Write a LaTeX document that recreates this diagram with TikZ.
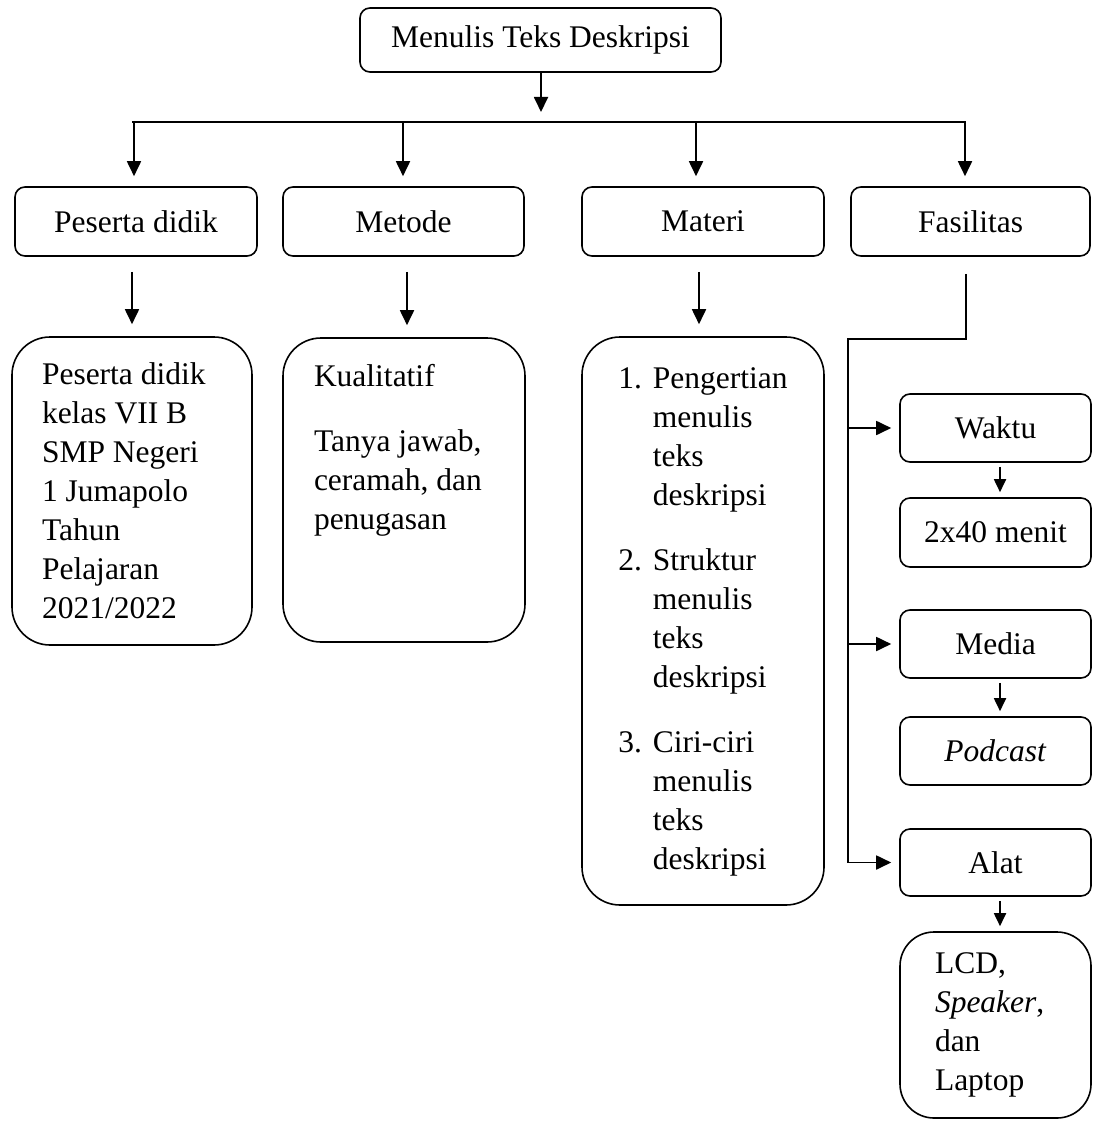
\documentclass[tikz,border=0pt]{standalone}
\usepackage{fontspec}
\setmainfont{Liberation Serif}
\usetikzlibrary{arrows.meta}
\newcommand\fsz{\fontsize{31.5}{39}\selectfont}
\begin{document}
\begin{tikzpicture}[x=1pt,y=-1pt,
  box/.style={draw, line width=1.6pt, rounded corners=10pt, inner sep=0pt, font=\fsz, align=center},
  big/.style={draw, line width=1.6pt, rounded corners=38pt, inner sep=0pt, font=\fsz},
  arr/.style={line width=1.8pt, -{Triangle[width=14pt,length=15pt]}},
  sarr/.style={line width=1.8pt, -{Triangle[width=12pt,length=13pt]}},
  ln/.style={line width=1.8pt}]
\useasboundingbox (0,0) rectangle (1092,1121);

% top
\node[box, minimum width=361pt, minimum height=64pt] (top) at (540.5,40) {Menulis Teks Deskripsi};

% level 2
\node[box, minimum width=242pt, minimum height=69pt] (pd) at (136,221.5) {Peserta didik};
\node[box, minimum width=241pt, minimum height=69pt] (md) at (403.5,221.5) {Metode};
\node[box, minimum width=242pt, minimum height=69pt] (mt) at (703,221.5) {Materi};
\node[box, minimum width=239pt, minimum height=69pt] (fs) at (970.5,221.5) {Fasilitas};

% level 3
\node[big, minimum width=240pt, minimum height=308pt] (pb) at (132,491)
  {\parbox{180pt}{\raggedright Peserta didik\\kelas VII B\\SMP Negeri\\1 Jumapolo\\Tahun\\Pelajaran\\2021/2022}};
\node[big, minimum width=242pt, minimum height=304pt] (mb) at (404,490)
  {\parbox[c][304pt][t]{180pt}{\raggedright\vspace*{26pt}Kualitatif\\[26pt]Tanya jawab,\\ceramah, dan\\penugasan}};
\node[big, minimum width=242pt, minimum height=568pt] (matb) at (703,621)
  {\begin{tabular}{@{}l@{\hspace{11pt}}l@{}}
   1. & Pengertian\\ & menulis\\ & teks\\ & deskripsi\\[26pt]
   2. & Struktur\\ & menulis\\ & teks\\ & deskripsi\\[26pt]
   3. & Ciri-ciri\\ & menulis\\ & teks\\ & deskripsi
   \end{tabular}};

% right column
\node[box, minimum width=191pt, minimum height=68pt] (wk) at (995.5,428) {Waktu};
\node[box, minimum width=191pt, minimum height=69pt] (tm) at (995.5,532.5) {2x40 menit};
\node[box, minimum width=191pt, minimum height=68pt] (me) at (995.5,644) {Media};
\node[box, minimum width=191pt, minimum height=68pt] (pc) at (995.5,751) {\textit{Podcast}};
\node[box, minimum width=191pt, minimum height=67pt] (al) at (995.5,862.5) {Alat};
\node[big, rounded corners=34pt, minimum width=191pt, minimum height=186pt] (lcd) at (995.5,1025)
  {\parbox{121pt}{\raggedright LCD,\\\textit{Speaker},\\dan\\Laptop}};

% connectors top
\coordinate (hb) at (541,122);
\draw[arr, shorten >=10pt] (top.south -| hb) -- (hb);
\coordinate (hl) at (132,122);
\coordinate (hr) at (966,122);
\draw[ln] (hl) -- (hr);
\coordinate (bpd) at (134,122);
\coordinate (bmd) at (403,122);
\coordinate (bmt) at (696,122);
\coordinate (bfs) at (965,122);
\draw[arr, shorten >=10pt] (bpd) -- (bpd |- pd.north);
\draw[arr, shorten >=10pt] (bmd) -- (bmd |- md.north);
\draw[arr, shorten >=10pt] (bmt) -- (bmt |- mt.north);
\draw[arr, shorten >=10pt] (bfs) -- (bfs |- fs.north);

% level 2 -> 3
\draw[arr, shorten <=15pt, shorten >=12pt] (pb.north |- pd.south) -- (pb.north);
\draw[arr, shorten <=15pt, shorten >=12pt] ([xshift=3pt]mb.north |- md.south) -- ([xshift=3pt]mb.north);
\draw[arr, shorten <=15pt, shorten >=12pt] ([xshift=-4pt]matb.north |- mt.south) -- ([xshift=-4pt]matb.north);

% Fasilitas branch
\coordinate (f1) at ([xshift=-4.5pt,yshift=-17pt]fs.south);
\coordinate (f2) at (848,339);
\draw[ln] (f1) |- (f2) -- (f2 |- al);
\draw[arr, shorten >=8pt] (f2 |- wk) -- (wk.west);
\draw[arr, shorten >=8pt] (f2 |- me) -- (me.west);
\draw[arr, shorten >=8pt] (f2 |- al) -- (al.west);

% right vertical arrows
\draw[sarr, shorten <=4pt, shorten >=5pt] ([xshift=4.5pt]wk.south) -- ([xshift=4.5pt]tm.north);
\draw[sarr, shorten <=4pt, shorten >=5pt] ([xshift=4.5pt]me.south) -- ([xshift=4.5pt]pc.north);
\draw[sarr, shorten <=4pt, shorten >=5pt] ([xshift=4.5pt]al.south) -- ([xshift=4.5pt]lcd.north);
\end{tikzpicture}
\end{document}
